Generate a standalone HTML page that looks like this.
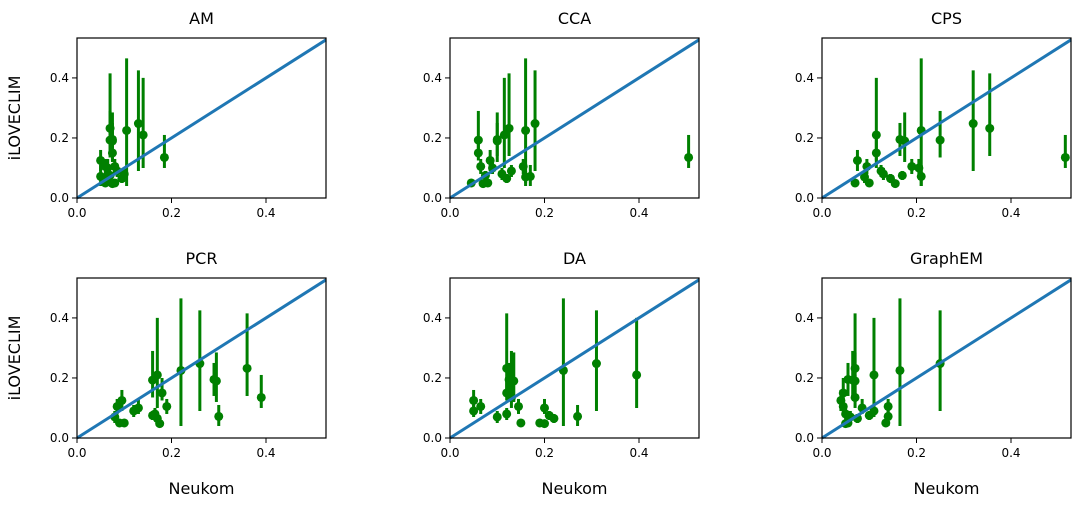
<!DOCTYPE html>
<html><head><meta charset="utf-8"><style>
body{margin:0;background:#fff;font-family:"Liberation Sans","DejaVu Sans",sans-serif}
svg text{font-family:"DejaVu Sans","Liberation Sans",sans-serif}
</style></head><body>
<svg id="c" width="1080" height="504" viewBox="0 0 1080 504"></svg>
<script>
const titles=["AM","CCA","CPS","PCR","DA","GraphEM"];
const yVals=[0.248,0.232,0.225,0.21,0.135,0.193,0.195,0.19,0.15,0.125,0.105,0.105,0.10,0.09,0.08,0.072,0.07,0.065,0.075,0.05,0.05,0.048];
const yLo=[0.09,0.14,0.04,0.10,0.10,0.135,0.14,0.12,0.125,0.09,0.08,0.08,0.08,0.07,0.06,0.04,0.05,0.05,0.06,0.04,0.04,0.04];
const yHi=[0.425,0.415,0.465,0.40,0.21,0.29,0.25,0.285,0.20,0.16,0.13,0.13,0.13,0.11,0.10,0.11,0.09,0.08,0.09,0.06,0.06,0.06];
const xAM=[0.13,0.07,0.105,0.14,0.185,0.07,0.075,0.075,0.075,0.05,0.08,0.06,0.065,0.085,0.1,0.05,0.065,0.095,0.07,0.06,0.08,0.075];
const xCCA=[0.18,0.125,0.16,0.115,0.505,0.06,0.1,0.1,0.06,0.085,0.065,0.155,0.09,0.13,0.11,0.17,0.16,0.12,0.075,0.045,0.08,0.07];
const xCPS=[0.32,0.355,0.21,0.115,0.515,0.25,0.165,0.175,0.115,0.075,0.095,0.19,0.205,0.125,0.13,0.21,0.09,0.145,0.17,0.07,0.1,0.155];
const xPCR=[0.26,0.36,0.22,0.17,0.39,0.16,0.29,0.295,0.18,0.095,0.085,0.19,0.13,0.12,0.165,0.3,0.08,0.17,0.16,0.09,0.1,0.175];
const xDA=[0.31,0.12,0.24,0.395,0.13,0.13,0.125,0.135,0.12,0.05,0.065,0.145,0.2,0.05,0.12,0.27,0.1,0.22,0.21,0.15,0.19,0.2];
const xGEM=[0.25,0.07,0.165,0.11,0.07,0.065,0.055,0.07,0.045,0.04,0.045,0.14,0.085,0.11,0.05,0.14,0.06,0.075,0.1,0.135,0.055,0.05];
const xSets=[xAM,xCCA,xCPS,xPCR,xDA,xGEM];
const ticks=[0,0.2,0.4];
const tickLabels=["0.0","0.2","0.4"];
const XMAX=0.527,YMAX=0.533,W=249,H=160;
const lefts=[77,450,822],tops=[38,278];
const svg=document.getElementById('c');
const NS="http://www.w3.org/2000/svg";
function mk(tag,attrs,parent){const e=document.createElementNS(NS,tag);for(const k in attrs)e.setAttribute(k,attrs[k]);(parent||svg).appendChild(e);return e;}
for(let p=0;p<6;p++){
  const L=lefts[p%3],T=tops[Math.floor(p/3)];
  const sx=v=>L+v/XMAX*W, sy=v=>T+H-v/YMAX*H;
  const g=mk('g',{});
  
  
  const t=mk('text',{x:L+W/2,y:T-14,'text-anchor':'middle','font-size':16,fill:'#000'},g);
  t.textContent=titles[p];
  
  
  for(let i=0;i<ticks.length;i++){
    const x=sx(ticks[i]),y=sy(ticks[i]);
    mk('line',{x1:x,x2:x,y1:T+H,y2:T+H+5,stroke:'#000','stroke-width':1},g);
    const tx=mk('text',{x:x,y:T+H+19,'text-anchor':'middle','font-size':12,fill:'#000'},g);
    tx.textContent=tickLabels[i];
    
    
    mk('line',{x1:L-5,x2:L,y1:y,y2:y,stroke:'#000','stroke-width':1},g);
    const ty=mk('text',{x:L-8,y:y+4,'text-anchor':'end','font-size':12,fill:'#000'},g);
    ty.textContent=tickLabels[i];
    
    
  }
  const xs=xSets[p];
  for(let i=0;i<yVals.length;i++){
    const eb=mk('line',{x1:sx(xs[i]),x2:sx(xs[i]),y1:sy(yLo[i]),y2:sy(yHi[i]),stroke:'#008000','stroke-width':3},g);
    
    
  }
  for(let i=0;i<yVals.length;i++){
    const c=mk('circle',{cx:sx(xs[i]),cy:sy(yVals[i]),r:4.5,fill:'#008000'},g);
    
    
  }
  const ln=mk('line',{x1:sx(0),y1:sy(0),x2:sx(XMAX),y2:sy(XMAX),stroke:'#1f77b4','stroke-width':3},g);
  
  
  const fr=mk('rect',{x:L,y:T,width:W,height:H,fill:'none',stroke:'#000','stroke-width':1.2},g);
  
  
  if(p%3===0){
    const yl=mk('text',{x:0,y:0,transform:`translate(${L-57},${T+H/2}) rotate(-90)`,'text-anchor':'middle','font-size':16,fill:'#000'},g);
    yl.textContent='iLOVECLIM';
    
    
  }
  if(p>=3){
    const xl=mk('text',{x:L+W/2,y:T+H+56,'text-anchor':'middle','font-size':16,fill:'#000'},g);
    xl.textContent='Neukom';
    
    
  }
}
</script>
</body></html>
